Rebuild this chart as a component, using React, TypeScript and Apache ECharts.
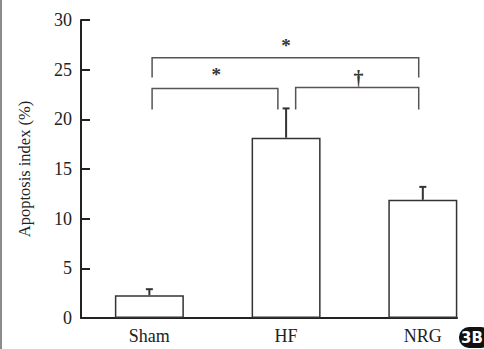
import React, { useEffect, useRef } from 'react';
import * as echarts from 'echarts';

const categories = ['Sham', 'HF', 'NRG'];
const means = [2.3, 18.15, 11.9];
const errUpper = [0.6, 2.95, 1.3];
const yMin = 0;
const yMax = 30;
const yStep = 5;
// brackets: [xStart, xEnd, yTop, yLegBottom]
const brackets = [
  [0.02, 1.97, 26.2, 24.2],
  [0.02, 0.94, 23.1, 21.0],
  [1.07, 1.97, 23.2, 21.0],
];
const bracketMarks = ['*', '*', '†'];
const markX = [1.0, 0.49, 1.53];
const markY = [27.4, 24.5, 24.2];

const SERIF = '"Liberation Serif", "Times New Roman", serif';

export default function App() {
  const ref = useRef<HTMLDivElement>(null);
  useEffect(() => {
    if (!ref.current) return;
    const chart = echarts.init(ref.current, undefined, { renderer: 'svg' });
    const barData = means.map((m, i) => [i, m]);
    const errData = means.map((m, i) => [i, m, m + errUpper[i]]);
    const markData = bracketMarks.map((t, i) => [markX[i], markY[i], t]);
    chart.setOption({
      animation: false,
      backgroundColor: '#fff',
      grid: { left: 81, right: 27, top: 20, bottom: 31, containLabel: false },
      xAxis: {
        type: 'value',
        min: -0.5,
        max: 2.25,
        interval: 0.25,
        axisLine: { show: true, onZero: false, lineStyle: { color: '#222', width: 2 } },
        axisTick: { show: false },
        splitLine: { show: false },
        axisLabel: {
          margin: 9,
          fontFamily: SERIF,
          fontSize: 18,
          color: '#222',
          formatter: (v: number) => {
            const r = Math.round(v);
            return Math.abs(v - r) < 1e-6 && r >= 0 && r < categories.length ? categories[r] : '';
          },
        },
      },
      yAxis: {
        type: 'value',
        min: yMin,
        max: yMax,
        interval: yStep,
        name: 'Apoptosis index (%)',
        nameLocation: 'middle',
        nameRotate: 90,
        nameGap: 48,
        nameTextStyle: { fontFamily: SERIF, fontSize: 16.5, color: '#222' },
        axisLine: { show: true, onZero: false, lineStyle: { color: '#222', width: 2 } },
        axisTick: { show: true, inside: true, length: 9, lineStyle: { color: '#222', width: 2 } },
        splitLine: { show: false },
        axisLabel: { margin: 9, fontFamily: SERIF, fontSize: 18, color: '#222' },
      },
      series: [
        {
          type: 'bar',
          data: barData,
          barWidth: 69,
          itemStyle: { color: '#fff', borderColor: '#333', borderWidth: 1.5 },
          z: 2,
        },
        {
          type: 'custom',
          data: errData,
          z: 3,
          encode: { x: 0, y: [1, 2] },
          renderItem: (params: any, api: any) => {
            const p0 = api.coord([api.value(0), api.value(1)]);
            const p1 = api.coord([api.value(0), api.value(2)]);
            const style = { stroke: '#333', lineWidth: 2 };
            return {
              type: 'group',
              children: [
                { type: 'line', shape: { x1: p0[0], y1: p0[1], x2: p1[0], y2: p1[1] }, style },
                { type: 'line', shape: { x1: p1[0] - 3.5, y1: p1[1], x2: p1[0] + 3.5, y2: p1[1] }, style },
              ],
            };
          },
        },
        {
          type: 'custom',
          data: brackets,
          z: 3,
          encode: { x: [0, 1], y: [2, 3] },
          renderItem: (params: any, api: any) => {
            const x1 = api.value(0), x2 = api.value(1), yt = api.value(2), yl = api.value(3);
            const a = api.coord([x1, yl]);
            const b = api.coord([x1, yt]);
            const c = api.coord([x2, yt]);
            const d = api.coord([x2, yl]);
            return {
              type: 'polyline',
              shape: { points: [a, b, c, d] },
              style: { stroke: '#555', lineWidth: 1.5, fill: null },
            };
          },
        },
        {
          type: 'custom',
          data: markData,
          z: 4,
          encode: { x: 0, y: 1 },
          renderItem: (params: any, api: any) => {
            const p = api.coord([api.value(0), api.value(1)]);
            const t = bracketMarks[params.dataIndex];
            return {
              type: 'text',
              x: p[0],
              y: p[1],
              style: {
                text: t,
                fontFamily: SERIF,
                fontSize: t === '†' ? 20 : 19,
                fontWeight: 'bold',
                fill: '#333',
                align: 'center',
                verticalAlign: 'middle',
              },
            };
          },
        },
      ],
      graphic: [
        { type: 'rect', left: 0, top: 0, shape: { x: 0, y: 0, width: 2, height: 349 }, style: { fill: '#8c8c8c' } },
        { type: 'rect', shape: { x: 459, y: 327, width: 32, height: 21, r: 10 }, style: { fill: '#111' } },
        {
          type: 'text',
          x: 461,
          y: 338,
          style: {
            text: '3B',
            fill: '#fff',
            fontFamily: '"DejaVu Sans", sans-serif',
            fontWeight: 'bold',
            fontSize: 15,
            verticalAlign: 'middle',
            align: 'left',
          },
        },
      ],
    });
    return () => chart.dispose();
  }, []);
  return (
    <div
      ref={ref}
      style={{ position: 'fixed', left: 0, top: 0, width: 484, height: 349, background: '#fff' }}
    />
  );
}
